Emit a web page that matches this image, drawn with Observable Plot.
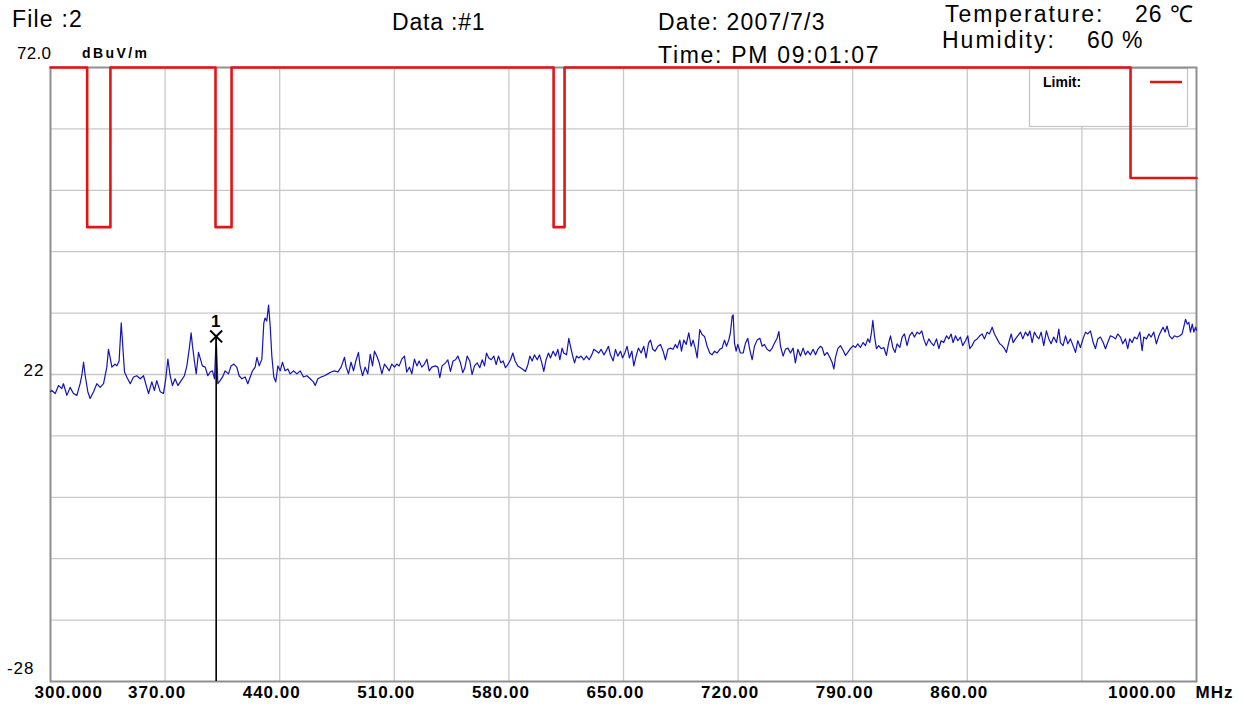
<!DOCTYPE html>
<html><head><meta charset="utf-8">
<script src="https://cdn.jsdelivr.net/npm/d3@7"></script>
<script src="https://cdn.jsdelivr.net/npm/@observablehq/plot@0.6"></script>
<style>
body{margin:0;background:#fff;}
#wrap{position:relative;width:1246px;height:709px;overflow:hidden;font-family:"Liberation Sans",Arial,sans-serif;color:#000;}
#wrap svg{position:absolute;left:0;top:0;}
.hdr{position:absolute;white-space:nowrap;font-size:23px;letter-spacing:1.2px;line-height:1.2;}
.small{position:absolute;white-space:nowrap;line-height:1;}
</style></head><body><div id="wrap">
<span class="hdr" style="left:12px;top:5.5px">File :2</span>
<span class="hdr" style="left:392px;top:8.5px;letter-spacing:0.8px">Data :#1</span>
<span class="hdr" style="left:658px;top:8.5px">Date: 2007/7/3</span>
<span class="hdr" style="left:658px;top:41.5px;letter-spacing:1.7px">Time: PM 09:01:07</span>
<span class="hdr" style="left:945px;top:1px;letter-spacing:2px">Temperature:</span>
<span class="hdr" style="left:1135px;top:1px;letter-spacing:1px">26 ℃</span>
<span class="hdr" style="left:942px;top:27px;letter-spacing:2px">Humidity:</span>
<span class="hdr" style="left:1087px;top:27px;letter-spacing:1px">60 %</span>
<span class="small" style="left:17px;top:45px;font-size:17px;letter-spacing:0.3px">72.0</span>
<span class="small" style="left:82px;top:46px;font-size:14px;font-weight:bold;letter-spacing:2.4px">dBuV/m</span>
</div>
<script>
// ---- trace (MHz / dBuV/m) ----
const freqMHz = [
300.0,300.8,302.9,304.9,306.9,307.9,310.0,312.0,314.0,316.1,318.1,319.1,320.2,321.2,322.8,324.2,326.3,328.3,330.3,332.4,
334.4,335.4,336.4,337.5,339.5,340.5,341.9,343.2,344.0,345.2,346.6,348.7,350.7,352.7,354.8,356.8,358.8,359.9,361.9,363.5,
364.9,367.0,369.0,370.4,371.7,373.1,374.5,376.1,377.8,379.8,381.8,383.3,384.7,385.9,386.7,388.0,389.0,390.4,391.6,392.8,
394.5,396.1,397.5,398.9,400.2,401.2,402.2,403.6,405.1,406.7,408.7,410.3,412.0,413.8,415.2,416.9,418.9,420.5,422.0,423.4,
425.0,426.1,427.5,429.1,430.3,431.1,432.1,433.2,434.2,435.2,436.4,437.6,438.9,440.3,441.7,443.3,445.0,446.4,448.4,450.5,
452.5,454.5,456.6,458.6,460.6,461.7,463.3,465.3,467.4,469.4,471.4,473.5,475.5,477.5,479.6,480.6,482.0,483.6,485.1,486.5,
488.1,489.1,490.6,492.2,493.8,495.3,496.7,497.9,499.3,500.7,502.4,504.0,505.4,506.9,508.5,510.1,511.5,513.0,514.6,516.2,
517.6,519.3,520.7,522.3,523.8,525.2,526.8,528.4,529.9,531.3,532.9,535.0,536.6,
537.8,539.2,541.3,542.7,544.3,545.9,547.4,548.8,550.4,551.8,553.1,554.5,556.1,557.5,559.0,560.6,562.2,563.7,565.1,566.3,
567.7,569.2,570.8,572.2,573.6,575.1,576.5,577.9,579.3,581.0,582.4,583.8,585.4,587.1,588.7,590.1,591.6,592.8,594.2,595.6,
597.3,598.7,600.1,601.3,602.7,604.2,605.4,607.0,608.5,609.9,611.1,612.5,613.5,615.2,616.6,617.6,618.8,620.1,621.3,622.7,
624.1,625.8,627.4,629.0,630.6,631.9,633.5,634.9,636.3,638.0,639.4,640.8,642.0,643.7,645.1,646.5,648.2,649.4,650.8,652.2,
653.6,655.1,656.3,657.7,659.1,660.8,662.4,663.8,665.3,666.5,667.9,669.3,671.0,672.6,674.2,675.6,677.1,678.7,680.3,681.7,
682.8,684.4,685.4,686.8,688.3,689.9,691.3,692.5,694.0,695.0,696.6,698.0,699.5,701.1,702.7,704.1,705.6,707.2,708.8,710.2,
711.7,712.9,714.3,715.3,716.4,717.0,717.8,718.8,719.8,721.4,723.1,724.5,725.9,727.1,728.6,730.0,731.6,733.3,734.7,736.1,
737.7,739.4,740.8,742.2,743.8,744.9,745.9,747.5,748.9,750.4,752.0,753.6,755.0,756.5,758.1,759.7,761.1,762.6,764.2,765.8,
767.3,768.7,770.3,
771.3,772.8,774.4,776.0,777.4,778.5,779.5,780.9,782.5,784.2,785.6,787.0,788.6,790.3,791.7,793.1,794.7,796.4,797.8,799.2,
800.4,801.5,802.3,803.3,804.5,805.9,807.4,809.0,810.6,812.0,813.1,814.5,815.9,817.1,818.8,820.2,821.6,823.2,824.7,826.3,
827.7,829.4,830.8,832.2,833.4,834.9,836.5,837.9,839.5,841.2,842.6,844.0,845.6,847.3,848.7,850.1,851.3,852.8,854.2,855.8,
857.2,858.9,860.3,861.5,862.9,864.4,866.0,867.6,869.1,870.5,872.1,873.5,875.2,876.6,878.2,879.8,881.3,882.7,883.9,885.3,
886.8,888.0,889.4,890.8,892.5,893.9,895.5,897.0,898.2,899.6,901.0,902.2,903.7,905.1,906.7,908.3,909.8,911.2,912.8,914.5,
915.9,916.9,918.5,920.0,921.4,923.0,924.6,926.1,927.5,929.1,930.7,932.2,933.6,935.2,936.9,938.3,939.7,941.3,943.0,944.4,
945.8,947.4,949.1,950.5,951.9,953.5,955.0,956.6,958.0,959.2,960.7,962.1,963.7,965.4,966.8,967.8,969.4,970.9,972.3,973.9,
975.5,977.0,978.4,979.6,980.8,982.0,983.5,985.1,986.5,988.2,989.8,991.2,992.2,993.3,994.3,995.3,996.3,997.4,998.4,999.4,
1000.0
];
const levelDb = [
19.2,19.4,18.9,20.2,19.7,20.5,18.6,19.9,18.9,18.6,20.5,21.8,24.0,21.8,19.2,18.1,19.2,20.5,19.9,20.5,
23.2,26.1,24.8,23.2,23.7,23.4,24.2,30.4,27.2,22.4,21.6,20.5,21.6,21.8,21.3,21.8,19.9,18.9,20.8,19.4,
21.0,19.2,18.9,21.3,24.5,21.8,20.2,21.3,20.2,21.0,21.8,23.4,26.1,28.8,26.7,24.0,22.1,25.6,24.5,23.4,
23.2,21.8,22.4,22.6,21.3,28.2,20.5,21.0,21.6,22.6,22.1,23.4,23.7,23.2,21.8,21.3,21.6,20.5,21.6,22.6,
23.2,24.8,23.4,24.5,30.4,31.2,30.7,33.3,29.9,25.0,21.6,20.8,23.4,22.6,24.0,22.6,22.9,22.1,22.6,22.1,
22.6,21.6,21.8,21.3,20.8,20.2,21.3,21.6,21.8,22.1,22.4,22.6,22.4,23.2,24.8,23.2,22.1,24.0,22.6,24.2,
25.6,23.4,21.8,23.2,22.1,25.3,23.4,25.8,25.0,24.0,22.1,23.7,23.2,22.6,23.7,23.2,23.7,23.4,24.5,25.0,
22.4,23.2,22.1,24.5,23.4,24.2,23.2,23.7,24.5,22.6,23.2,23.4,23.2,
21.5,23.4,23.9,24.4,22.5,24.2,24.4,25.0,23.9,22.3,23.1,25.0,24.2,22.0,23.4,23.9,23.1,24.4,23.4,25.5,
24.7,24.4,25.0,23.6,25.0,23.9,24.2,23.1,23.6,24.4,25.5,24.2,23.4,23.1,22.8,22.5,23.6,25.0,24.2,25.2,
24.4,25.2,23.9,22.5,24.4,25.5,24.7,25.8,25.0,26.1,24.4,26.3,25.5,25.2,27.9,26.6,25.2,23.9,25.0,24.7,
25.0,24.4,25.0,24.4,25.2,26.1,25.8,25.5,26.1,25.2,25.8,26.6,25.2,24.2,26.1,25.0,25.8,24.7,25.5,26.6,
24.7,25.8,23.4,25.0,26.3,25.5,26.6,24.7,27.1,27.6,26.1,25.8,26.6,26.9,25.8,24.4,26.1,26.3,26.1,26.9,
26.3,27.6,25.8,27.6,26.9,28.8,26.6,27.6,26.1,24.7,29.3,28.5,28.2,26.6,25.5,25.2,25.8,25.5,26.1,26.3,
27.6,26.6,27.6,28.8,31.5,31.7,27.1,25.8,26.9,25.5,25.5,27.1,27.9,26.1,24.4,26.6,27.6,27.9,26.6,26.9,
26.1,25.8,26.3,27.1,27.9,29.0,26.6,25.0,26.1,26.3,25.5,26.3,23.9,26.1,25.0,26.3,25.2,25.8,25.2,26.1,
25.2,26.1,26.6,
26.4,25.1,25.6,24.8,24.0,22.9,24.8,26.2,26.7,25.9,25.1,25.6,26.2,26.7,26.4,27.0,26.4,27.2,26.7,27.8,
27.2,28.9,30.8,28.3,26.2,26.7,26.2,26.4,25.1,27.2,28.3,26.4,25.6,27.0,26.4,28.1,28.6,26.7,28.3,28.9,
28.1,28.9,28.6,29.1,27.8,26.7,27.8,27.2,26.7,27.8,26.2,27.5,27.2,28.3,27.8,28.6,27.2,28.3,27.5,28.1,
26.7,27.5,28.3,26.2,26.7,27.5,27.8,28.3,28.6,27.8,28.9,28.6,29.7,28.6,27.8,27.0,26.7,26.2,25.6,27.2,
28.6,27.2,27.8,28.3,28.9,27.8,28.9,28.3,29.1,27.2,28.9,28.3,27.8,28.9,26.7,29.1,27.8,27.0,28.1,27.2,
29.4,27.2,26.7,28.3,27.0,27.8,26.7,25.6,27.5,26.4,27.8,28.9,28.6,29.1,27.2,26.2,27.8,28.1,27.2,26.2,
27.2,28.3,28.1,27.8,28.6,28.1,27.0,27.8,26.2,27.8,27.2,28.1,27.8,28.9,25.9,28.1,27.8,28.6,28.1,28.9,
27.0,28.3,29.1,29.7,28.9,29.9,28.3,27.8,28.3,28.1,28.3,28.6,29.7,31.0,30.2,30.5,28.9,30.2,28.9,29.7,
29.2
];
// ---- limit line ----
const limitFreq = [300, 322.4, 322.4, 336.6, 336.6, 400.8, 400.8, 410.6, 410.6, 607.3, 607.3, 614.0, 614.0, 959.7, 959.7, 1000];
const limitDb   = [72,  72,    46,    46,    72,    72,    46,    46,    72,    72,    46,    46,    72,    72,    54,    54];
// ---- marker ----
const markerFreq = [401.2];
const markerDb = [28.2];
const markerLabel = ["1"];
// ---- axes ----
const xTickValues = [370, 440, 510, 580, 650, 720, 790, 860];
const xTickLabels = ["370.00", "440.00", "510.00", "580.00", "650.00", "720.00", "790.00", "860.00"];
const xStartLabel = ["300.000"];
const xEndLabel = ["1000.00"];
const xUnit = "MHz";
const xGrid = [370, 440, 510, 580, 650, 720, 790, 860, 930];
const yGrid = [62, 52, 42, 32, 22, 12, 2, -8, -18];
const xDomain = [300, 1000];
const yDomain = [-28, 72];
const legendLabel = "Limit:";

const W = 1246, H = 709, ML = 50, MR = 50, MT = 67, MB = 28;
const trace = freqMHz.slice(0, Math.min(freqMHz.length, levelDb.length)).map((f, i) => ({f, v: levelDb[i]}));
const limit = limitFreq.map((f, i) => ({f, v: limitDb[i]}));
const markers = markerFreq.map((f, i) => ({f, v: markerDb[i], base: yDomain[0], label: markerLabel[i]}));
const ticks = xTickValues.map((v, i) => ({v, t: xTickLabels[i]}));

const RED = "#e41414", BLUE = "#1414b4";

function legendMark() {
  const right = W - MR;
  const g = d3.create("svg:g");
  g.append("rect").attr("x", right - 166.5).attr("y", MT + 1.5).attr("width", 158).attr("height", 58)
    .attr("fill", "white").attr("stroke", "#c4c4c4").attr("stroke-width", 1.2);
  g.append("text").attr("x", right - 153).attr("y", MT + 20).attr("font-size", 14).attr("font-weight", "bold")
    .attr("text-anchor", "start").attr("letter-spacing", "0px").text(legendLabel);
  g.append("line").attr("x1", right - 46).attr("x2", right - 14).attr("y1", MT + 15).attr("y2", MT + 15)
    .attr("stroke", RED).attr("stroke-width", 2.5);
  return g.node();
}

const chart = Plot.plot({
  width: W, height: H,
  marginLeft: ML, marginRight: MR, marginTop: MT, marginBottom: MB,
  x: {domain: xDomain, axis: null},
  y: {domain: yDomain, axis: null},
  style: {fontFamily: "'Liberation Sans', Arial, sans-serif", background: "transparent", letterSpacing: "1px", color: "#000"},
  marks: [
    Plot.ruleX(xGrid, {stroke: "#c8c8c8", strokeWidth: 1.3}),
    Plot.ruleY(yGrid, {stroke: "#c8c8c8", strokeWidth: 1.3}),
    legendMark,
    Plot.frame({stroke: "#8f8f8f", strokeWidth: 2}),
    Plot.line(limit, {x: "f", y: "v", stroke: RED, strokeWidth: 2.6}),
    Plot.line(trace, {x: "f", y: "v", stroke: BLUE, strokeWidth: 1.2}),
    Plot.ruleX(markers, {x: "f", y1: "v", y2: "base", stroke: "#000", strokeWidth: 1.6}),
    Plot.dot(markers, {x: "f", y: "v", symbol: "times", r: 5.5, stroke: "#000", strokeWidth: 2}),
    Plot.text(markers, {x: "f", y: "v", text: "label", dy: -15, fontSize: 17, fontWeight: "bold", fill: "#000"}),
    Plot.text([22], {y: d => d, text: d => String(d), frameAnchor: "left", textAnchor: "end", dx: -6, lineAnchor: "bottom", dy: 1, fontSize: 17, fill: "#000"}),
    Plot.text([-28], {y: d => d, text: d => String(d), frameAnchor: "left", textAnchor: "end", dx: -16, lineAnchor: "bottom", dy: -8, fontSize: 17, fill: "#000"}),
    Plot.text(ticks, {x: "v", text: "t", frameAnchor: "bottom", lineAnchor: "top", dy: 4, dx: -8, fontSize: 17, fontWeight: "bold", fill: "#000"}),
    Plot.text(xStartLabel, {x: () => xDomain[0], text: d => d, frameAnchor: "bottom", lineAnchor: "top", dy: 4, dx: -16, textAnchor: "start", fontSize: 17, fontWeight: "bold", fill: "#000"}),
    Plot.text(xEndLabel, {x: () => xDomain[1], text: d => d, frameAnchor: "bottom", lineAnchor: "top", dy: 4, dx: -20, textAnchor: "end", fontSize: 17, fontWeight: "bold", fill: "#000"}),
    Plot.text([xUnit], {x: () => xDomain[1], text: d => d, frameAnchor: "bottom", lineAnchor: "top", dy: 4, dx: -1, textAnchor: "start", fontSize: 17, fontWeight: "bold", fill: "#000"})
  ]
});
document.getElementById("wrap").prepend(chart);
</script>
</body></html>
